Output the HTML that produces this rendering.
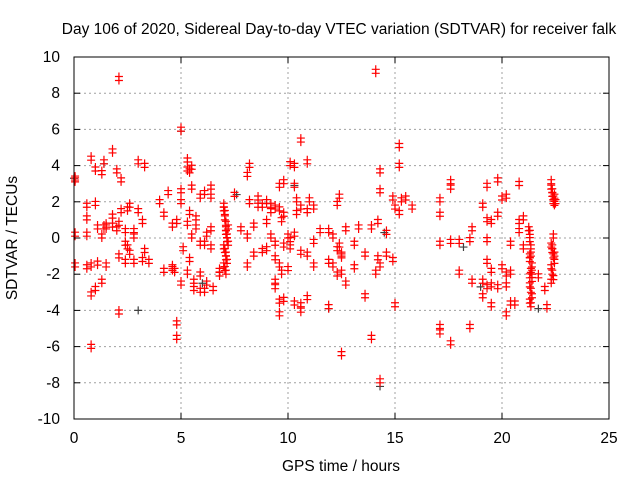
<!DOCTYPE html>
<html><head><meta charset="utf-8"><style>
html,body{margin:0;padding:0;background:#fff;width:640px;height:480px;overflow:hidden}
svg text{font-family:"Liberation Sans",sans-serif;font-size:15.5px;fill:#000}
</style></head><body>
<svg id="chart" width="640" height="480" xmlns="http://www.w3.org/2000/svg">
<rect width="640" height="480" fill="#fff"/>
<text x="339" y="34" text-anchor="middle">Day 106 of 2020, Sidereal Day-to-day VTEC variation (SDTVAR) for receiver falk</text>
<text x="341" y="471" text-anchor="middle">GPS time / hours</text>
<text x="17" y="238" text-anchor="middle" transform="rotate(-90 17 238)">SDTVAR / TECUs</text>
<g id="grid"></g>
<g id="gray"></g>
<g id="red"></g>
<g id="axes"></g>
</svg>
<script>
const xTicks=[0,5,10,15,20,25];
const yTicks=[-10,-8,-6,-4,-2,0,2,4,6,8,10];
const redX=[0.05,0.05,0.05,0.05,0.6,0.6,0.6,0.6,0.8,0.8,0.8,0.8,1.0,1.0,1.0,1.1,1.1,1.3,1.3,1.3,1.4,1.4,1.5,1.5,1.5,1.8,1.8,1.8,2.0,2.0,2.1,2.1,2.1,2.1,2.2,2.2,2.4,2.4,2.4,2.5,2.5,2.6,2.6,2.8,2.8,2.8,3.0,3.0,3.2,3.2,3.3,3.3,3.5,4.0,4.2,4.2,4.4,4.6,4.6,4.6,4.7,4.8,4.8,4.8,5.0,5.0,5.0,5.0,5.1,5.3,5.3,5.3,5.3,5.4,5.4,5.4,5.5,5.5,5.5,5.6,5.6,5.7,5.7,5.9,5.9,5.9,5.9,6.1,6.1,6.1,6.2,6.2,6.4,6.4,6.4,6.4,6.5,6.8,6.8,
7.0,7.0,7.05,7.05,7.1,7.1,7.1,7.15,7.15,7.2,7.0,7.05,7.1,7.1,7.15,7.0,7.05,7.1,7.2,7.5,7.8,8.1,8.1,8.1,8.2,8.2,8.4,8.4,8.6,8.6,8.8,8.8,9.0,9.0,9.0,9.2,9.2,9.2,9.4,9.4,9.4,9.4,9.4,9.6,9.6,9.6,9.6,9.6,9.7,9.7,9.8,9.8,9.8,9.8,10.0,10.0,10.1,10.1,10.1,10.3,10.3,10.3,10.3,10.4,10.4,10.6,10.6,10.6,10.6,10.6,10.9,10.9,10.9,10.9,11.0,11.2,11.2,11.2,11.5,11.9,11.9,11.9,12.1,12.1,12.3,12.3,12.3,12.4,12.4,12.5,12.5,12.5,12.5,12.7,12.7,13.1,13.1,13.3,13.6,13.6,13.9,13.9,14.1,14.1,14.2,14.2,14.3,14.3,14.3,14.3,14.6,14.6,14.9,14.9,15.0,15.0,15.2,15.2,15.2,15.3,15.5,15.8,
17.1,17.1,17.1,17.1,17.1,17.6,17.6,17.6,17.6,18.0,18.0,18.5,18.5,18.6,18.6,19.1,19.1,19.1,19.3,19.3,19.3,19.3,19.3,19.5,19.5,19.5,19.5,19.8,19.8,19.8,20.0,20.0,20.2,20.2,20.2,20.2,20.4,20.4,20.4,20.6,20.8,20.8,20.8,21.0,21.0,
21.25,21.3,21.3,21.35,21.35,21.3,21.4,21.35,21.3,21.4,21.3,21.35,21.4,21.3,21.35,21.3,21.4,21.7,22.0,22.1,
22.3,22.3,22.35,22.35,22.4,22.4,22.45,22.45,22.5,22.3,22.35,22.4,22.45,22.3,22.35,22.4,22.45,22.3,22.4,22.35];
const redY=[3.2,3.1,0.1,-1.6,1.7,1.0,0.1,-1.7,4.3,-3.2,-6.1,-1.6,3.7,1.8,-2.9,0.5,-1.5,3.5,0.0,-2.5,4.1,0.5,0.5,0.6,-1.6,4.7,0.6,1.1,3.6,0.4,8.7,0.7,-1.1,-4.2,3.1,1.4,0.3,-0.4,-1.4,1.5,-0.6,1.7,-0.9,0.3,-1.4,0.0,4.1,1.4,0.8,-1.3,3.9,-0.8,-1.4,1.9,1.2,-1.9,2.4,0.6,-1.7,-1.8,-1.9,-4.8,-5.6,0.8,5.9,2.5,1.9,-2.6,-0.7,4.2,3.7,0.7,-2.0,3.6,1.3,-1.3,3.8,2.7,0.0,-2.9,-2.5,1.0,0.5,2.2,-0.4,-2.1,-3.0,2.4,-0.4,-3.0,0.1,-2.6,2.7,2.2,0.4,-0.6,-2.9,-1.9,-2.1,
1.7,1.5,1.3,1.0,0.7,0.4,0.2,0.0,-0.2,-0.4,-0.6,-0.8,-1.0,-1.2,-1.4,-1.6,-1.8,-2.0,0.5,2.3,0.4,3.4,0.0,-1.6,3.9,1.9,0.6,-1.0,1.7,2.1,-0.8,1.7,1.9,0.8,-0.7,1.7,1.4,0.0,1.6,-0.4,-1.2,-2.5,-2.8,2.8,1.5,-1.6,-3.6,-4.3,0.9,-2.0,3.0,1.2,-0.5,-3.5,0.0,-1.8,4.0,-0.2,-0.6,3.9,2.8,0.1,-3.7,2.0,1.3,5.3,1.6,-0.9,-3.8,-4.1,4.1,1.4,-1.0,-3.4,2.0,1.6,-0.3,-1.6,0.3,0.3,-1.4,-3.9,0.0,-1.6,1.8,-0.7,-2.1,2.2,-0.5,-1.1,-6.5,-2.0,-1.0,0.4,-2.6,-0.4,-1.7,0.5,-1.0,-3.3,0.5,-5.6,9.1,-2.0,0.8,-1.2,3.6,2.5,-1.6,-8.0,0.2,-1.0,2.1,-1.3,1.6,-3.8,5.0,3.9,1.3,2.0,2.1,1.6,
2.0,1.2,-0.4,-5.0,-5.3,3.0,2.7,-0.3,-5.9,-0.3,-2.0,-0.2,-5.0,0.4,-2.5,1.7,-2.5,-3.3,2.8,0.9,-0.2,-1.4,-2.8,0.8,-1.9,-2.7,-3.8,3.1,1.2,-2.8,2.1,-1.7,2.2,-2.7,-2.1,-4.3,-0.4,-2.0,-3.7,-3.7,2.9,0.8,0.3,1.0,-0.6,
0.4,0.2,-0.2,-0.6,-1.0,-1.3,-1.6,-1.9,-2.2,-2.4,-2.7,-3.0,-3.3,-3.6,-3.8,-1.1,-2.0,-2.2,-2.9,-3.9,
3.0,2.7,2.5,2.3,2.1,1.9,1.8,2.2,1.9,-0.5,-0.8,-1.1,-1.4,-1.7,-2.0,-2.3,-1.0,-2.5,0.0,-0.6];
const grayX=[0.0,1.4,5.0,3.0,14.3,21.7,18.2,10.3,6.0,11.9,19.0,7.6,14.5];
const grayY=[3.3,4.1,5.9,-4.0,-8.2,-3.9,-0.5,2.9,-2.5,-3.9,-2.7,2.4,0.3];

const L=74,R=609,T=57,B=419;
const sx=v=>L+(v-0)/25*(R-L);
const sy=v=>B-(v+10)/20*(B-T);
const NS="http://www.w3.org/2000/svg";
function mk(tag,attrs,parent){const e=document.createElementNS(NS,tag);for(const k in attrs)e.setAttribute(k,attrs[k]);parent.appendChild(e);return e;}
const grid=document.getElementById('grid'),axes=document.getElementById('axes');
xTicks.forEach(t=>{
  const x=sx(t);
  if(t>0&&t<25){const g=mk('line',{x1:x,y1:T,x2:x,y2:B,stroke:'#a0a0a0','stroke-dasharray':'2,3'},grid);
  
  }
  mk('line',{x1:x,y1:B,x2:x,y2:B-6,stroke:'#000'},axes);
  mk('line',{x1:x,y1:T,x2:x,y2:T+6,stroke:'#000'},axes);
  const tx=mk('text',{x:x,y:B+24,'text-anchor':'middle'},axes);tx.textContent=t;
  
  
});
yTicks.forEach(t=>{
  const y=sy(t);
  if(t>-10&&t<10){const g=mk('line',{x1:L,y1:y,x2:R,y2:y,stroke:'#a0a0a0','stroke-dasharray':'2,3'},grid);
  
  }
  mk('line',{x1:L,y1:y,x2:L+6,y2:y,stroke:'#000'},axes);
  mk('line',{x1:R,y1:y,x2:R-6,y2:y,stroke:'#000'},axes);
  const tx=mk('text',{x:L-14,y:y+5,'text-anchor':'end'},axes);tx.textContent=t;
  
  
});
mk('rect',{x:L,y:T,width:R-L,height:B-T,fill:'none',stroke:'#000'},axes);
function cross(g,x,y,c,name){
  const p=mk('path',{d:`M${x-4} ${y}h8M${x} ${y-4}v8`,stroke:c,'stroke-width':1.2,fill:'none'},g);
  
  
}
const gg=document.getElementById('gray'),rg=document.getElementById('red');
grayX.forEach((v,i)=>cross(gg,sx(v),sy(grayY[i]),'#404040','reference-point'));
redX.forEach((v,i)=>{const x=sx(v),y=sy(redY[i]);cross(rg,x,y,'#ff0000','sdtvar-point');cross(rg,x,y-4,'#ff0000','sdtvar-point');});
</script>
</body></html>
